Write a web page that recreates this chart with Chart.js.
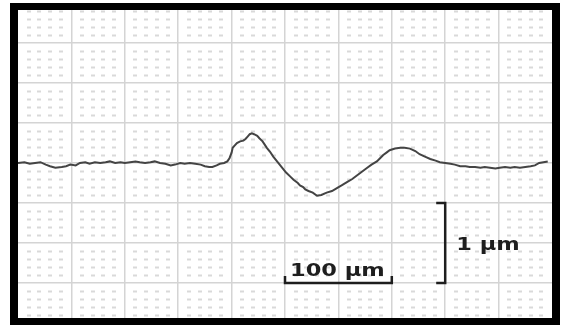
<!DOCTYPE html>
<html>
<head>
<meta charset="utf-8">
<script src="https://cdn.jsdelivr.net/npm/chart.js@4.4.1/dist/chart.umd.min.js"></script>
<style>
  html, body { margin: 0; padding: 0; background: #fff; }
  body { width: 562px; height: 325px; position: relative; overflow: hidden; }
  #frame {
    position: absolute;
    left: 10px;
    top: 3px;
    width: 534px;
    height: 308px;
    border-style: solid;
    border-color: #000;
    border-width: 7px 8px 7px 8px;
  }
  #wrap { position: relative; width: 534px; height: 308px; }
</style>
</head>
<body>
<div id="frame"><div id="wrap"><canvas id="profileChart"></canvas></div></div>
<script>
// profile position (µm) and height (µm)
const positionUm = [
  0, 6, 11, 16, 21, 26, 30, 35, 41, 45, 49, 54, 58, 63, 67, 72, 77, 82, 86, 91,
  96, 100, 105, 110, 114, 119, 124, 128, 133, 138, 143, 147, 152, 156, 161, 166,
  171, 175, 179, 182, 186, 189, 193, 196, 198, 200, 201, 203, 205, 208, 211, 213,
  215, 217, 219, 221, 224, 226, 229, 231, 233, 236, 239, 242, 245, 248, 251, 255,
  258, 262, 264, 267, 269, 272, 276, 280, 284, 289, 294, 299, 303, 308, 313, 317,
  322, 327, 331, 336, 339, 342, 345, 348, 353, 358, 362, 367, 372, 376, 381, 386,
  391, 395, 400, 405, 409, 414, 419, 423, 428, 433, 437, 442, 447, 451, 456, 461,
  465, 470, 475, 480, 484, 488, 492, 496, 500
];
const heightUm = [
  0.00, 0.01, -0.01, 0.00, 0.01, -0.02, -0.04, -0.06, -0.05, -0.04, -0.02, -0.03, 0.00, 0.01, -0.01, 0.01,
  0.00, 0.01, 0.02, 0.00, 0.01, 0.00, 0.01, 0.02, 0.01, 0.00, 0.01, 0.02, 0.00, -0.01, -0.03, -0.02,
  0.00, -0.01, 0.00, -0.01, -0.02, -0.04, -0.05, -0.05, -0.03, -0.01, 0.00, 0.02, 0.06, 0.13, 0.19, 0.22,
  0.25, 0.27, 0.28, 0.30, 0.33, 0.36, 0.37, 0.36, 0.34, 0.31, 0.27, 0.23, 0.19, 0.14, 0.08, 0.03,
  -0.02, -0.07, -0.12, -0.17, -0.21, -0.25, -0.28, -0.30, -0.33, -0.35, -0.37, -0.41, -0.40, -0.37,
  -0.35, -0.31, -0.28, -0.24, -0.20, -0.16, -0.11, -0.06, -0.02, 0.02, 0.06, 0.10, 0.13, 0.16, 0.18,
  0.19, 0.19, 0.18, 0.15, 0.11, 0.08, 0.05, 0.03, 0.01, 0.00, -0.01, -0.02, -0.04, -0.04, -0.05,
  -0.05, -0.06, -0.05, -0.06, -0.07, -0.06, -0.05, -0.06, -0.05, -0.06, -0.05, -0.04, -0.03, 0.00, 0.01,
  0.02
];

// axis extent (µm) and graph paper spacing
const xRange = [0, 500];
const yRange = [-1.9375, 1.9125];
const xMinorStep = 10;
const xMajorStep = 50;
const yMinorStep = 0.1;
const yMajorStep = 0.5;

// scale bars: [x, y] pairs in µm
const barX = { from: [250, -1.5], to: [350, -1.5], label: "100 µm" };
const barY = { from: [400, -0.5], to: [400, -1.5], label: "1 µm" };

const points = positionUm.map((x, i) => ({ x, y: heightUm[i] }));

function buildTicks(min, max, step) {
  const ticks = [];
  const start = Math.ceil(min / step);
  const end = Math.floor(max / step);
  for (let k = start; k <= end; k++) {
    const v = Math.round(k * step * 1000) / 1000;
    if (v > min && v < max) ticks.push({ value: v });
  }
  return ticks;
}

function isMajor(v, major) {
  const r = v / major;
  return Math.abs(r - Math.round(r)) < 1e-6;
}

const paperDots = {
  id: "paperDots",
  beforeDatasetsDraw(chart) {
    const { ctx, scales } = chart;
    const xs = scales.x.ticks.filter((t) => !isMajor(t.value, xMajorStep));
    const ys = scales.y.ticks.filter((t) => !isMajor(t.value, yMajorStep));
    ctx.save();
    ctx.fillStyle = "#d9d9d9";
    xs.forEach((tx) => {
      const px = scales.x.getPixelForValue(tx.value);
      ys.forEach((ty) => {
        const py = scales.y.getPixelForValue(ty.value);
        ctx.fillRect(Math.round(px) - 2, Math.round(py) - 0.5, 4, 2);
      });
    });
    ctx.restore();
  },
};

const scaleBars = {
  id: "scaleBars",
  afterDatasetsDraw(chart) {
    const { ctx, scales } = chart;
    const px = (v) => scales.x.getPixelForValue(v);
    const py = (v) => scales.y.getPixelForValue(v);
    ctx.save();
    ctx.strokeStyle = "#1e1e1e";
    ctx.fillStyle = "#1e1e1e";
    ctx.lineWidth = 2.5;
    ctx.lineCap = "butt";

    // horizontal bar with upturned ends
    const hx1 = px(barX.from[0]);
    const hx2 = px(barX.to[0]);
    const hy = py(barX.from[1]);
    ctx.beginPath();
    ctx.moveTo(hx1, hy - 7);
    ctx.lineTo(hx1, hy);
    ctx.lineTo(hx2, hy);
    ctx.lineTo(hx2, hy - 7);
    ctx.stroke();

    // vertical bracket
    const vx = px(barY.from[0]);
    const vy1 = py(barY.from[1]);
    const vy2 = py(barY.to[1]);
    ctx.beginPath();
    ctx.moveTo(vx - 9, vy1);
    ctx.lineTo(vx, vy1);
    ctx.lineTo(vx, vy2);
    ctx.lineTo(vx - 9, vy2);
    ctx.stroke();

    ctx.font = "bold 18px 'DejaVu Sans'";
    ctx.textBaseline = "alphabetic";

    ctx.save();
    ctx.translate((hx1 + hx2) / 2 - 1, hy - 7);
    ctx.scale(1.25, 1);
    ctx.textAlign = "center";
    ctx.fillText(barX.label, 0, 0);
    ctx.restore();

    ctx.save();
    ctx.translate(vx + 11, (vy1 + vy2) / 2 + 7);
    ctx.scale(1.25, 1);
    ctx.textAlign = "left";
    ctx.fillText(barY.label, 0, 0);
    ctx.restore();

    ctx.restore();
  },
};

function paperAxis(range, minor, major) {
  return {
    type: "linear",
    min: range[0],
    max: range[1],
    afterBuildTicks: (axis) => {
      axis.ticks = buildTicks(range[0], range[1], minor);
    },
    ticks: { display: false },
    grid: {
      drawTicks: false,
      lineWidth: 1.5,
      color: (c) =>
        c.tick && isMajor(c.tick.value, major) ? "#d4d4d4" : "rgba(0,0,0,0)",
    },
    border: { display: false },
  };
}

function renderProfile() {
  const ctx = document.getElementById("profileChart").getContext("2d");
  const cfg = {
    type: "line",
    data: {
      datasets: [
        {
          label: "Profile",
          data: points,
          borderColor: "#444444",
          borderWidth: 2,
          pointRadius: 0,
          fill: false,
          tension: 0,
        },
      ],
    },
    options: {
      responsive: true,
      maintainAspectRatio: false,
      animation: false,
      layout: { padding: 0 },
      scales: {
        x: paperAxis(xRange, xMinorStep, xMajorStep),
        y: paperAxis(yRange, yMinorStep, yMajorStep),
      },
      plugins: {
        legend: { display: false },
        tooltip: { enabled: false },
      },
    },
    plugins: [paperDots, scaleBars],
  };
  return new Chart(ctx, cfg);
}

renderProfile();
</script>
</body>
</html>
